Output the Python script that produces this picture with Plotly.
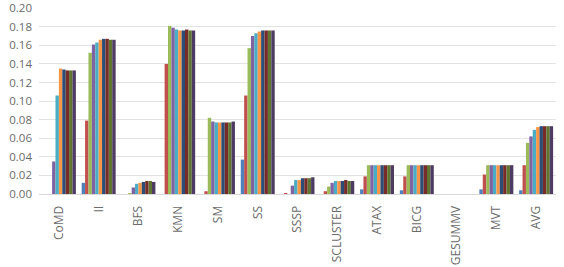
import plotly.graph_objects as go

categories = ["CoMD", "II", "BFS", "KMN", "SM", "SS", "SSSP", "SCLUSTER",
              "ATAX", "BICG", "GESUMMV", "MVT", "AVG"]

series_names = ["S1", "S2", "S3", "S4", "S5", "S6", "S7", "S8", "S9", "S10"]

# values per category, one entry per series (S1..S10)
CoMD     = [0.000, 0.000, 0.000, 0.035, 0.106, 0.135, 0.134, 0.133, 0.133, 0.133]
II       = [0.012, 0.079, 0.152, 0.161, 0.163, 0.166, 0.167, 0.167, 0.166, 0.166]
BFS      = [0.000, 0.000, 0.001, 0.007, 0.011, 0.012, 0.013, 0.014, 0.014, 0.013]
KMN      = [0.000, 0.140, 0.181, 0.179, 0.177, 0.176, 0.176, 0.177, 0.176, 0.176]
SM       = [0.000, 0.003, 0.082, 0.078, 0.077, 0.077, 0.077, 0.077, 0.077, 0.078]
SS       = [0.037, 0.106, 0.157, 0.170, 0.173, 0.175, 0.176, 0.176, 0.176, 0.176]
SSSP     = [0.000, 0.001, 0.000, 0.009, 0.015, 0.015, 0.017, 0.017, 0.017, 0.018]
SCLUSTER = [0.000, 0.003, 0.008, 0.012, 0.014, 0.014, 0.014, 0.015, 0.014, 0.014]
ATAX     = [0.005, 0.019, 0.031, 0.031, 0.031, 0.031, 0.031, 0.031, 0.031, 0.031]
BICG     = [0.004, 0.019, 0.031, 0.031, 0.031, 0.031, 0.031, 0.031, 0.031, 0.031]
GESUMMV  = [0.000, 0.000, 0.000, 0.000, 0.000, 0.000, 0.000, 0.000, 0.000, 0.000]
MVT      = [0.005, 0.021, 0.031, 0.031, 0.031, 0.031, 0.031, 0.031, 0.031, 0.031]
AVG      = [0.004, 0.031, 0.055, 0.062, 0.069, 0.072, 0.073, 0.073, 0.073, 0.073]

table = [CoMD, II, BFS, KMN, SM, SS, SSSP, SCLUSTER, ATAX, BICG, GESUMMV, MVT, AVG]

y_ticks = [0.00, 0.02, 0.04, 0.06, 0.08, 0.10, 0.12, 0.14, 0.16, 0.18, 0.20]

colors = ["#4F81BD", "#C0504D", "#9BBB59", "#8064A2", "#4BACC6",
          "#F79646", "#2C4D75", "#772C2A", "#5F7530", "#4D3B62"]

fig = go.Figure()
for i, name in enumerate(series_names):
    fig.add_trace(go.Bar(
        x=categories,
        y=[row[i] for row in table],
        name=name,
        marker=dict(color=colors[i], line=dict(width=0)),
    ))

xfont = dict(family="Open Sans, DejaVu Sans, sans-serif", size=12, color="#6b6b6b")
yfont = dict(family="Open Sans, DejaVu Sans, sans-serif", size=11.5, color="#6b6b6b")

fig.update_layout(
    width=564, height=267,
    margin=dict(l=39, r=8, t=8, b=73, autoexpand=False),
    barmode="group",
    bargap=0.146,
    bargroupgap=0,
    showlegend=False,
    plot_bgcolor="white",
    paper_bgcolor="white",
    font=xfont,
)
fig.update_xaxes(
    tickangle=-90,
    showgrid=False,
    showline=True,
    linecolor="#d9d9d9",
    linewidth=1,
    ticks="",
    ticklabelstandoff=6,
    tickfont=xfont,
    automargin=False,
)
fig.update_yaxes(
    range=[0, 0.2002],
    tickmode="array",
    tickvals=y_ticks,
    ticktext=["%.2f" % v for v in y_ticks],
    showgrid=True,
    gridcolor="#e3e3e3",
    gridwidth=1,
    zeroline=False,
    showline=False,
    ticks="",
    ticklabelstandoff=6,
    ticklabeloverflow="allow",
    tickfont=yfont,
    automargin=False,
)

fig.write_html("out.html")
